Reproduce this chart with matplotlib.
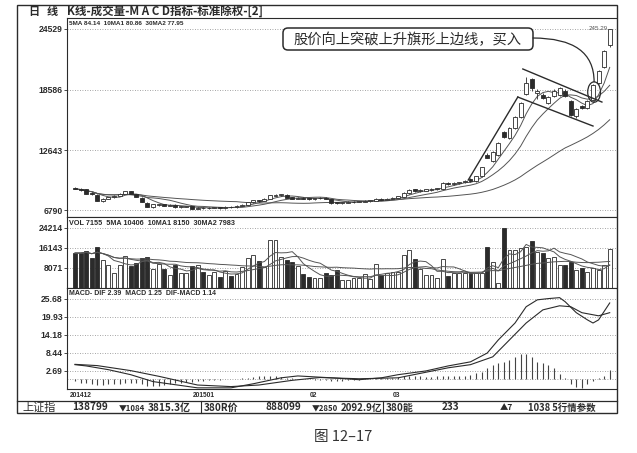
import matplotlib
matplotlib.use('Agg')
import matplotlib.pyplot as plt
from matplotlib import patches
import pandas as pd

plt.rcParams['font.family'] = ['Noto Sans CJK SC', 'DejaVu Sans']

# 日K数据（按图估读，2014-12 ~ 2015-04）
opens = [89.5, 88.5, 88.0, 84.5, 83.0, 77.0, 79.0, 80.5, 82.0, 84.0,
         86.5, 83.5, 80.0, 75.0, 70.5, 72.5, 73.5, 72.0, 73.0, 70.5,
         71.0, 71.5, 69.0, 70.0, 69.5, 70.0, 70.5, 69.5, 71.0, 70.5,
         72.0, 73.0, 75.5, 77.5, 77.0, 79.0, 82.0, 82.5, 83.0, 80.5,
         79.0, 80.0, 79.5, 78.5, 79.5, 80.0, 78.5, 75.5, 74.5, 75.0,
         75.5, 76.0, 76.0, 76.5, 77.0, 79.0, 78.0, 79.0, 80.0, 81.0,
         84.5, 88.0, 86.5, 87.0, 87.5, 88.0, 88.5, 94.5, 93.0, 94.0,
         95.0, 98.5, 96.0, 101.0, 122.0, 116.0, 122.0, 144.0, 138.0, 148.0,
         159.0, 182.0, 196.0, 183.0, 181.0, 173.0, 180.0, 181.0, 185.0, 175.0,
         160.0, 170.0, 168.0, 176.0, 192.0, 208.0, 230.0]
highs = [90.5, 89.0, 88.5, 85.5, 83.5, 79.5, 81.0, 82.5, 84.5, 87.0,
         87.0, 84.0, 80.5, 75.5, 74.0, 74.0, 74.0, 73.5, 73.5, 72.0,
         72.0, 72.0, 70.5, 70.5, 70.5, 71.0, 71.0, 71.5, 71.5, 72.5,
         73.5, 76.0, 78.0, 78.0, 79.5, 83.0, 83.5, 84.0, 83.5, 81.0,
         80.5, 80.5, 80.0, 80.0, 80.5, 80.5, 79.0, 76.0, 76.0, 76.5,
         76.5, 77.0, 77.5, 78.0, 79.5, 79.5, 79.5, 80.5, 82.0, 85.5,
         88.0, 88.5, 88.0, 88.5, 89.0, 89.5, 95.0, 95.0, 95.0, 95.5,
         97.0, 99.5, 101.5, 110.5, 123.5, 126.0, 135.0, 145.5, 149.0, 160.0,
         174.0, 198.0, 197.0, 186.0, 182.5, 180.0, 186.0, 188.0, 186.0, 176.0,
         168.0, 171.0, 175.5, 191.0, 205.0, 225.0, 245.29]
lows = [88.0, 87.0, 83.5, 83.0, 76.5, 76.0, 78.5, 80.0, 81.5, 83.5,
        83.5, 80.5, 75.5, 70.5, 70.0, 72.0, 71.5, 71.5, 70.0, 70.0,
        70.5, 68.5, 68.5, 69.0, 69.0, 69.5, 69.0, 69.0, 70.0, 70.0,
        71.5, 72.5, 75.0, 76.0, 76.5, 78.5, 81.5, 82.0, 79.5, 78.5,
        78.5, 78.5, 78.0, 78.0, 79.0, 78.5, 74.0, 74.0, 74.0, 74.5,
        75.0, 75.5, 75.5, 76.0, 76.5, 77.5, 77.5, 78.5, 79.5, 80.5,
        84.0, 86.0, 86.0, 86.5, 87.0, 87.5, 88.0, 92.5, 92.5, 93.5,
        94.5, 95.5, 95.5, 100.5, 118.5, 115.0, 121.0, 138.0, 137.0, 147.0,
        158.0, 181.0, 185.0, 177.0, 177.0, 172.0, 179.0, 180.0, 179.0, 160.0,
        158.0, 167.0, 167.0, 175.0, 191.0, 207.0, 228.0]
closes = [88.5, 87.5, 84.0, 83.5, 77.0, 79.0, 80.5, 82.0, 84.0, 86.5,
          84.0, 81.0, 76.0, 71.0, 73.5, 73.5, 72.0, 73.0, 70.5, 71.5,
          71.5, 69.0, 70.0, 69.5, 70.0, 70.5, 69.5, 71.0, 70.5, 72.0,
          73.0, 75.5, 77.5, 77.0, 79.0, 82.5, 83.0, 83.5, 80.0, 79.0,
          80.0, 79.0, 78.5, 79.5, 80.0, 79.0, 74.5, 74.5, 75.5, 76.0,
          76.0, 76.5, 77.0, 77.5, 79.0, 78.0, 79.0, 80.0, 81.5, 85.0,
          87.5, 86.5, 87.5, 88.0, 88.5, 89.0, 94.5, 93.0, 94.5, 95.0,
          96.5, 96.0, 101.0, 110.0, 119.0, 125.0, 134.0, 139.0, 148.0, 159.0,
          173.0, 192.0, 187.0, 185.0, 178.0, 179.0, 185.0, 187.0, 180.0, 161.0,
          167.0, 168.0, 175.0, 190.0, 204.0, 224.0, 245.29]
volumes = [14100, 14100, 15000, 12200, 16700, 11300, 9300, 6000, 9300, 12900,
           9000, 10000, 12000, 12400, 7700, 9700, 7700, 5200, 9300, 6200,
           6000, 8900, 9300, 6600, 5200, 6600, 4600, 6900, 4900, 5500,
           8600, 12000, 13300, 10900, 8600, 19400, 19400, 12600, 11300, 10600,
           9000, 5500, 4600, 3900, 3900, 5900, 5200, 7300, 3200, 3200,
           3900, 3900, 5500, 3600, 9500, 5200, 5900, 6300, 6300, 13300,
           15300, 11700, 7700, 5200, 5200, 3900, 11700, 5000, 5900, 5900,
           5900, 5900, 5900, 5900, 16700, 10600, 1900, 24300, 15300, 15300,
           16300, 16700, 19000, 14700, 14300, 12200, 12600, 9300, 9300, 10600,
           7300, 7900, 6600, 7900, 7300, 9300, 15600]
macd_hist = [-0.6, -1.0, -1.2, -1.5,
             -1.7, -1.8, -1.6, -1.5, -1.4, -1.3, -1.2, -1.3, -1.6, -2.0,
             -2.1, -2.0, -1.7, -1.4, -1.2, -1.0, -0.8, -0.7, -0.5, -0.4,
             -0.3, -0.2, -0.1, 0.0, 0.1, 0.2, 0.4, 0.6, 0.8, 1.0,
             1.1, 1.2, 1.1, 0.9, 0.6, 0.4, 0.2, 0.1, 0.0, -0.1,
             -0.2, -0.3, -0.5, -0.5, -0.4, -0.3, -0.2, -0.1, 0.1, 0.2,
             0.3, 0.4, 0.5, 0.6, 0.8, 1.0, 1.1, 1.1, 1.0, 0.9,
             0.9, 1.2, 1.2, 1.1, 1.1, 1.1, 1.0, 1.4, 2.0, 2.4,
             3.7, 4.7, 5.3, 5.6, 6.3, 7.2, 8.2, 8.2, 7.2, 5.6,
             5.3, 4.7, 3.7, 1.6, 0.5, -1.5, -2.5, -2.6, -1.5, -0.5,
             0.5, 1.2, 3.0]
dif_idx = [0, 2, 6, 10, 14, 18, 22, 28, 32, 37, 40, 46, 51, 55, 58, 63, 67, 71,
           74, 76, 79, 81, 83, 85, 87, 88, 90, 92, 93, 94, 96]
dif_val = [4.7, 4.3, 3.1, 1.5, -0.7, -1.7, -2.7, -2.7, -1.4, 0.5, 1.1, 0.5, -0.1,
           0.5, 1.5, 2.7, 4.3, 5.6, 8.4, 12.6, 18.0, 23.2, 25.4, 25.8, 26.1, 24.8,
           21.3, 19.0, 18.0, 19.0, 24.4]
dea_idx = [0, 4, 10, 15, 22, 28, 33, 39, 44, 51, 58, 67, 71, 75, 78, 81, 84, 87,
           89, 91, 94, 96]
dea_val = [4.8, 4.4, 2.8, 1.0, -1.8, -2.3, -1.8, -0.3, 0.6, 0.2, 0.5, 3.7, 4.7,
           7.2, 12.6, 18.0, 22.2, 23.5, 23.2, 21.3, 20.3, 21.3]

price_ticks = [245.29, 185.86, 126.43, 67.90]
price_labels = ['24529', '18586', '12643', '6790']
vol_ticks = [24214, 16143, 8071]
vol_labels = ['24214', '16143', '8071']
macd_ticks = [25.68, 19.93, 14.18, 8.44, 2.69]
macd_labels = ['25.68', '19.93', '14.18', '8.44', '2.69']
date_idx = [0, 22, 43, 58]
date_labels = ['201412', '201501', '02', '03']

# 旗形画线 (K线序号, 价格)
flag_upper = ([80.4, 94.6], [206.1, 173.7])
flag_lower = ([79.5, 93.0], [178.6, 150.2])
pole_line = ([70.6, 79.5], [97.3, 178.6])

W, H = 637, 453
INK = '#2b2b2b'
NUM = ['Liberation Sans', 'DejaVu Sans']


def box(x0, y0, x1, y1):
    return [x0 / W, 1 - y1 / H, (x1 - x0) / W, (y1 - y0) / H]


fig = plt.figure(figsize=(W / 100, H / 100), dpi=100)
fig.patch.set_facecolor('white')

ax_p = fig.add_axes(box(67, 18, 616, 217))
ax_v = fig.add_axes(box(67, 217, 616, 288))
ax_m = fig.add_axes(box(67, 288, 616, 389))

n = len(closes)
xs = list(range(n))
up = [c >= o for o, c in zip(opens, closes)]

# K线
ax_p.vlines(xs, lows, highs, color=INK, lw=0.6, zorder=3)
bodies = [max(abs(c - o), 0.5) for o, c in zip(opens, closes)]
bottoms = [min(o, c) for o, c in zip(opens, closes)]
ax_p.bar(xs, bodies, bottom=bottoms, width=0.7,
         color=['white' if u else INK for u in up], edgecolor=INK, lw=0.6, zorder=4)

cs = pd.Series(closes)
for w in (5, 10, 30):
    ax_p.plot(xs, cs.rolling(w, min_periods=1).mean(), color='#555555', lw=0.7, zorder=2)

for xx, yy in (flag_upper, flag_lower, pole_line):
    ax_p.plot(xx, yy, color=INK, lw=1.0, zorder=5)

ax_p.add_patch(patches.Ellipse((93.2, 183.5), 2.3, 20, fill=False, ec=INK, lw=0.9, zorder=6))
ax_p.text(95.6, 245.29, '245.29', fontsize=4.5, family=NUM, color='#555555',
          ha='right', va='center')
ax_p.text(0.003, 0.985, '5MA 84.14  10MA1 80.86  30MA2 77.95', transform=ax_p.transAxes,
          fontsize=4.6, family=NUM, weight='bold', color=INK, va='top')

# 成交量
ax_v.bar(xs, volumes, width=0.7, color=['white' if u else INK for u in up],
         edgecolor=INK, lw=0.6, zorder=3)
vs = pd.Series(volumes)
for w in (5, 10, 30):
    ax_v.plot(xs, vs.rolling(w, min_periods=1).mean(), color='#555555', lw=0.7, zorder=4)
ax_v.text(0.003, 0.96, 'VOL 7155  5MA 10406  10MA1 8150  30MA2 7983', transform=ax_v.transAxes,
          fontsize=5.2, family=NUM, weight='bold', color=INK, va='top')

# MACD
ax_m.vlines(xs, 0, macd_hist, color='#444444', lw=0.8, zorder=3)
ax_m.plot(dif_idx, dif_val, color=INK, lw=0.8, zorder=4)
ax_m.plot(dea_idx, dea_val, color=INK, lw=0.8, zorder=4)
ax_m.axhline(0, color='#888888', lw=0.6, ls=(0, (1, 2)), zorder=1)
ax_m.text(0.003, 0.985, 'MACD- DIF 2.39  MACD 1.25  DIF-MACD 1.14', transform=ax_m.transAxes,
          fontsize=5.0, family=NUM, weight='bold', color=INK, va='top')

panels = [(ax_p, (61.04, 256.07), price_ticks, price_labels),
          (ax_v, (0, 28652), vol_ticks, vol_labels),
          (ax_m, (-3.07, 29.18), macd_ticks, macd_labels)]
for ax, lim, ticks, labels in panels:
    ax.set_xlim(-1.44, 97.13)
    ax.set_ylim(*lim)
    ax.set_yticks(ticks)
    ax.set_yticklabels(labels, fontsize=6.2, family=NUM, weight='bold', color=INK)
    ax.tick_params(axis='y', length=2, width=0.6, pad=1, colors=INK)
    for t in ticks:
        ax.axhline(t, color='#888888', lw=0.6, ls=(0, (1, 2)), zorder=1)
    ax.spines['right'].set_visible(False)
    for s in ('left', 'top', 'bottom'):
        ax.spines[s].set_color(INK)
        ax.spines[s].set_linewidth(0.8)
    ax.set_xticks([])

ax_m.set_xticks([i - 0.9 for i in date_idx])
ax_m.set_xticklabels(date_labels, fontsize=4.8, family=NUM, weight='bold', color=INK)
for lab in ax_m.get_xticklabels():
    lab.set_horizontalalignment('left')
ax_m.tick_params(axis='x', length=0, pad=2)

# 外框、标题、状态栏
ov = fig.add_axes([0, 0, 1, 1])
ov.set_xlim(0, W)
ov.set_ylim(H, 0)
ov.axis('off')
ov.patch.set_visible(False)
ov.add_patch(patches.Rectangle((17, 5), 600, 408, fill=False, ec=INK, lw=1.0))
ov.plot([17, 617], [401, 401], color=INK, lw=0.9)
for sx in (201, 383):
    ov.plot([sx, sx], [401, 413], color=INK, lw=0.8)

ov.text(28, 11.5, '日', fontsize=8, color=INK, va='center', weight='bold')
ov.text(47, 11.5, '线', fontsize=8, color=INK, va='center', weight='bold')
ov.text(67, 11.5, 'K线-成交量-M A C D指标-标准除权-[2]', fontsize=8.3, color=INK,
        va='center', weight='bold')

status = [(22, '上证指', 8, 'normal'), (72, '138799', 7.3, 'bold'), (119, '▼1084', 5.6, 'bold'),
          (148, '3815.3亿', 7.2, 'bold'), (204, '380R价', 7.2, 'bold'),
          (265, '888099', 7.2, 'bold'), (312, '▼2850', 5.6, 'bold'),
          (341, '2092.9亿', 7.0, 'bold'), (386, '380能', 7.2, 'bold'),
          (442, '233', 7.2, 'bold'), (500, '▲7', 6.0, 'bold'), (528, '1038 5行情参数', 6.8, 'bold')]
for sx, s, fs, fw in status:
    ov.text(sx, 407.5, s, fontsize=fs, color=INK, va='center', weight=fw)

# 注释框
ov.add_patch(patches.FancyBboxPatch((283, 28), 250, 22, boxstyle='round,pad=0,rounding_size=5',
                                    fc='white', ec=INK, lw=1.1, zorder=8))
ov.text(408, 39.5, '股价向上突破上升旗形上边线，买入', fontsize=10.3, color=INK,
        ha='center', va='center', zorder=9)
conn = patches.ConnectionPatch((533, 38), (93.2, 193.5), coordsA=ov.transData,
                               coordsB=ax_p.transData, arrowstyle='-', color=INK, lw=0.9,
                               connectionstyle='angle3,angleA=0,angleB=90')
fig.add_artist(conn)

fig.text(343 / W, 1 - 437 / H, '图 12–17', fontsize=10.5, color='#333333',
         ha='center', va='center')

fig.savefig('out.png', dpi=100)
